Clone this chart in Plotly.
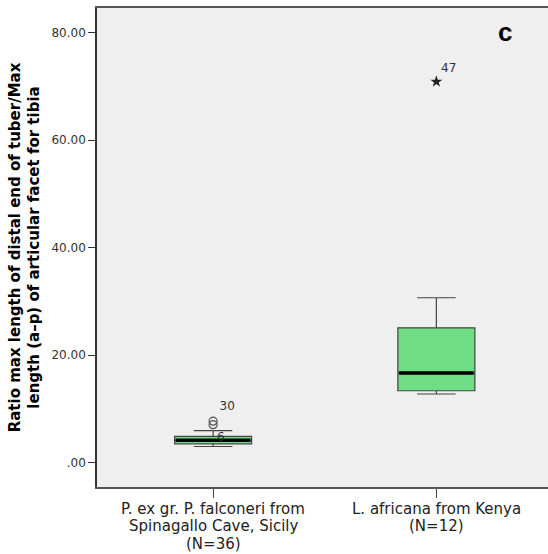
import plotly.graph_objects as go

# Group positions and labels (one list of lines per group)
positions = [0, 1]
group_labels = [
    ["P. ex gr. P. falconeri from", "Spinagallo Cave, Sicily", "(N=36)"],
    ["L. africana from Kenya", "(N=12)"],
]

# Five-number summaries per group
q1 = [3.53, 13.4]
medians = [4.19, 16.7]
q3 = [4.93, 25.1]
lower_whisker = [3.03, 12.8]
upper_whisker = [6.0, 30.7]

# Outlying cases
circle_x = [0, 0]
circle_y = [7.75, 7.1]
star_x = [1]
star_y = [70.9]

# Case-number labels
case_x = [0.063, 0.035, 1.055]
case_y = [10.4, 4.7, 73.3]
case_text = ["30", "6", "47"]

y_ticks = [0, 20, 40, 60, 80]
y_tick_text = [".00", "20.00", "40.00", "60.00", "80.00"]

box_width = 0.345
fill = "#70DD84"
font = "DejaVu Sans"

fig = go.Figure()

fig.add_trace(go.Box(
    x=positions, q1=q1, median=medians, q3=q3,
    lowerfence=lower_whisker, upperfence=upper_whisker,
    width=box_width, whiskerwidth=0.5,
    fillcolor=fill, line=dict(color="#444444", width=1.2),
    boxpoints=False, hoverinfo="skip", showlegend=False,
))

# Heavy median bars
for x, m in zip(positions, medians):
    fig.add_trace(go.Scatter(
        x=[x - box_width / 2 + 0.005, x + box_width / 2 - 0.005], y=[m, m],
        mode="lines", line=dict(color="black", width=3.5),
        showlegend=False, hoverinfo="skip",
    ))

fig.add_trace(go.Scatter(
    x=circle_x, y=circle_y, mode="markers",
    marker=dict(symbol="circle-open", size=8, color="#555555", line=dict(width=1.2)),
    showlegend=False, hoverinfo="skip",
))
fig.add_trace(go.Scatter(
    x=star_x, y=star_y, mode="markers",
    marker=dict(symbol="star", size=9, color="#222222"),
    showlegend=False, hoverinfo="skip",
))
fig.add_trace(go.Scatter(
    x=case_x, y=case_y, mode="text", text=case_text,
    textfont=dict(family=font, size=12, color="#333333"),
    textposition="middle center",
    showlegend=False, hoverinfo="skip",
))

# Category labels below the axis, set line by line
line_offsets = [-22, -39, -56.5]
for x, lines in zip(positions, group_labels):
    for i, line in enumerate(lines):
        fig.add_annotation(
            x=x, xref="x", y=0, yref="paper", yshift=line_offsets[i],
            text=line, showarrow=False, borderpad=0,
            font=dict(family=font, size=15, color="#222222"),
            xanchor="center", yanchor="middle",
        )

fig.add_annotation(
    x=0.905, y=0.985, xref="paper", yref="paper",
    text="<b>c</b>", showarrow=False,
    font=dict(family="Liberation Sans", size=26, color="black"),
    xanchor="center", yanchor="top",
)

fig.update_layout(
    width=548, height=554,
    margin=dict(l=97, r=0, t=8, b=67),
    paper_bgcolor="white", plot_bgcolor="#EFEFEF",
    font=dict(family=font, color="#333333"),
    xaxis=dict(
        range=[-0.52, 1.5], tickvals=positions, showticklabels=False,
        ticks="outside", ticklen=9, tickcolor="#444444", tickwidth=1,
        showgrid=False, zeroline=False,
        showline=True, mirror=True, linecolor="#555555", linewidth=1.5,
    ),
    yaxis=dict(
        range=[-4.5, 84.6], tickvals=y_ticks, ticktext=y_tick_text,
        ticks="outside", ticklen=7, tickcolor="#333333",
        tickfont=dict(size=12, color="#333333"),
        showgrid=False, zeroline=False,
        showline=True, linecolor="#333333", linewidth=1.5,
        title=dict(
            text="<b>Ratio max length of distal end of tuber/Max<br>length (a\u2013p) of articular facet for tibia</b>",
            font=dict(family=font, size=15, color="black"), standoff=8,
        ),
    ),
)

fig.write_html("out.html")
